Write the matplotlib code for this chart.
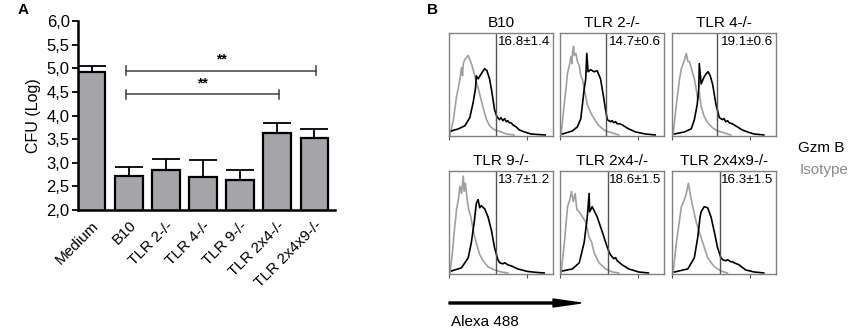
import matplotlib
matplotlib.use("Agg")
import matplotlib.pyplot as plt
import numpy as np

plt.rcParams['font.family'] = ['Liberation Sans', 'DejaVu Sans']

# ---- panel A data ----
groups = ["Medium", "B10", "TLR 2-/-", "TLR 4-/-", "TLR 9-/-", "TLR 2x4-/-", "TLR 2x4x9-/-"]
cfu = [4.92, 2.72, 2.85, 2.70, 2.63, 3.62, 3.53]
cfu_err = [0.13, 0.18, 0.22, 0.35, 0.22, 0.23, 0.19]
yticks = [2.0, 2.5, 3.0, 3.5, 4.0, 4.5, 5.0, 5.5, 6.0]

# ---- panel B data (x in decades of log fluorescence, y as fraction of max) ----
titles = ["B10", "TLR 2-/-", "TLR 4-/-", "TLR 9-/-", "TLR 2x4-/-", "TLR 2x4x9-/-"]
percent = ["16.8\u00b11.4", "14.7\u00b10.6", "19.1\u00b10.6", "13.7\u00b11.2", "18.6\u00b11.5", "16.3\u00b11.5"]
gates = [1.82, 1.78, 1.73, 1.82, 1.84, 1.85]

iso_x = [
    [0.04, 0.17, 0.29, 0.36, 0.42, 0.48, 0.52, 0.55, 0.61, 0.74, 0.80, 0.86, 0.93, 0.99, 1.05, 1.12, 1.18, 1.31, 1.43, 1.56, 1.75, 2.01, 2.2, 2.5],
    [0.04, 0.10, 0.17, 0.23, 0.29, 0.36, 0.42, 0.46, 0.48, 0.52, 0.55, 0.61, 0.67, 0.74, 0.80, 0.86, 0.93, 0.99, 1.05, 1.18, 1.31, 1.50, 1.75, 2.01, 2.26],
    [0.04, 0.17, 0.29, 0.36, 0.46, 0.55, 0.61, 0.67, 0.74, 0.80, 0.86, 0.93, 0.99, 1.05, 1.12, 1.24, 1.37, 1.56, 1.75, 2.01, 2.26],
    [0.04, 0.13, 0.20, 0.29, 0.36, 0.42, 0.48, 0.55, 0.58, 0.63, 0.70, 0.76, 0.84, 0.93, 1.02, 1.09, 1.18, 1.31, 1.50, 1.75, 2.01, 2.26],
    [0.04, 0.17, 0.29, 0.38, 0.44, 0.51, 0.58, 0.65, 0.74, 0.86, 0.99, 1.12, 1.22, 1.31, 1.50, 1.75, 2.01, 2.26],
    [0.04, 0.17, 0.36, 0.48, 0.55, 0.63, 0.71, 0.80, 0.93, 1.05, 1.18, 1.37, 1.63, 1.88, 2.13],
]
iso_y = [
    [0, 0.15, 0.38, 0.46, 0.55, 0.66, 0.58, 0.70, 0.74, 0.78, 0.74, 0.70, 0.64, 0.58, 0.52, 0.46, 0.40, 0.27, 0.16, 0.09, 0.05, 0.03, 0.01, 0],
    [0, 0.15, 0.32, 0.45, 0.61, 0.68, 0.77, 0.70, 0.80, 0.87, 0.78, 0.80, 0.72, 0.68, 0.58, 0.55, 0.45, 0.38, 0.30, 0.22, 0.16, 0.09, 0.04, 0.02, 0],
    [0, 0.30, 0.55, 0.65, 0.72, 0.80, 0.72, 0.72, 0.66, 0.60, 0.55, 0.45, 0.35, 0.42, 0.28, 0.18, 0.12, 0.07, 0.04, 0.02, 0],
    [0, 0.20, 0.40, 0.62, 0.72, 0.85, 0.78, 0.95, 0.80, 0.88, 0.72, 0.62, 0.55, 0.42, 0.32, 0.26, 0.18, 0.12, 0.06, 0.03, 0.01, 0],
    [0, 0.30, 0.65, 0.72, 0.80, 0.70, 0.78, 0.62, 0.60, 0.55, 0.50, 0.35, 0.30, 0.20, 0.10, 0.04, 0.01, 0],
    [0, 0.30, 0.65, 0.72, 0.78, 0.88, 0.76, 0.65, 0.50, 0.40, 0.30, 0.15, 0.06, 0.02, 0],
]
gzm_x = [
    [0.10, 0.36, 0.61, 0.80, 0.93, 1.02, 1.05, 1.12, 1.24, 1.37, 1.46, 1.56, 1.65, 1.75, 1.84, 1.94, 2.00, 2.07, 2.14, 2.20, 2.26, 2.32, 2.39, 2.45, 2.58, 2.70, 2.90, 3.15, 3.40, 3.7],
    [0.10, 0.48, 0.67, 0.80, 0.93, 0.99, 1.03, 1.08, 1.18, 1.31, 1.43, 1.56, 1.69, 1.75, 1.82, 1.94, 2.00, 2.07, 2.14, 2.20, 2.30, 2.39, 2.51, 2.64, 2.90, 3.28, 3.66],
    [0.10, 0.48, 0.74, 0.86, 0.97, 1.03, 1.05, 1.12, 1.22, 1.31, 1.39, 1.47, 1.56, 1.69, 1.82, 1.94, 2.00, 2.07, 2.14, 2.20, 2.32, 2.51, 2.70, 2.90, 3.15, 3.53],
    [0.10, 0.48, 0.74, 0.86, 0.97, 1.05, 1.12, 1.18, 1.24, 1.37, 1.50, 1.63, 1.75, 1.88, 1.95, 2.07, 2.15, 2.26, 2.39, 2.64, 3.02, 3.40, 3.66],
    [0.10, 0.48, 0.74, 0.93, 1.05, 1.12, 1.14, 1.24, 1.43, 1.63, 1.82, 1.90, 1.94, 2.00, 2.07, 2.14, 2.20, 2.39, 2.64, 3.02, 3.40],
    [0.10, 0.61, 0.86, 0.99, 1.08, 1.12, 1.24, 1.37, 1.50, 1.63, 1.75, 1.88, 1.95, 2.07, 2.14, 2.26, 2.32, 2.39, 2.58, 2.83, 3.15, 3.53],
]
gzm_y = [
    [0.04, 0.06, 0.09, 0.17, 0.32, 0.46, 0.58, 0.55, 0.60, 0.65, 0.63, 0.55, 0.42, 0.25, 0.18, 0.15, 0.17, 0.14, 0.16, 0.13, 0.14, 0.12, 0.12, 0.10, 0.08, 0.05, 0.03, 0.01, 0.005, 0],
    [0.01, 0.04, 0.08, 0.16, 0.45, 0.55, 0.80, 0.62, 0.64, 0.62, 0.63, 0.55, 0.35, 0.25, 0.15, 0.13, 0.14, 0.12, 0.13, 0.11, 0.11, 0.10, 0.08, 0.06, 0.03, 0.01, 0],
    [0.01, 0.03, 0.06, 0.15, 0.30, 0.45, 0.70, 0.50, 0.56, 0.60, 0.62, 0.58, 0.50, 0.30, 0.17, 0.15, 0.16, 0.13, 0.14, 0.12, 0.11, 0.08, 0.05, 0.03, 0.01, 0],
    [0.02, 0.05, 0.15, 0.30, 0.50, 0.68, 0.72, 0.64, 0.66, 0.63, 0.55, 0.42, 0.25, 0.13, 0.10, 0.09, 0.10, 0.08, 0.07, 0.04, 0.015, 0.005, 0],
    [0.02, 0.04, 0.10, 0.30, 0.55, 0.78, 0.60, 0.65, 0.55, 0.40, 0.25, 0.20, 0.18, 0.16, 0.14, 0.15, 0.12, 0.08, 0.04, 0.01, 0],
    [0.01, 0.04, 0.15, 0.35, 0.55, 0.60, 0.65, 0.64, 0.55, 0.40, 0.25, 0.15, 0.13, 0.12, 0.13, 0.11, 0.11, 0.10, 0.08, 0.03, 0.01, 0],
]

fig = plt.figure(figsize=(8.51, 3.31), dpi=100)

# ---------------- Panel A ----------------
ax = fig.add_axes([78 / 851, 1 - 210 / 331, 257 / 851, 189 / 331])
pos = np.arange(len(groups))
ax.bar(pos, cfu, width=0.74, color='#a4a4a9', edgecolor='black', linewidth=1.6, zorder=2)
ax.errorbar(pos, cfu, yerr=[np.zeros(len(cfu)), cfu_err], fmt='none', ecolor='black',
            elinewidth=1.3, capsize=10, capthick=1.3, zorder=1)
ax.set_ylim(2.0, 6.0)
ax.set_xlim(-0.37, 6.56)
ax.set_yticks(yticks)
ax.set_yticklabels([f"{v:.1f}".replace('.', ',') for v in yticks], fontsize=12)
ax.set_xticks(pos)
ax.set_xticklabels(groups, rotation=45, ha='right', rotation_mode='anchor', fontsize=11)
ax.tick_params(axis='x', length=0, pad=6)
ax.tick_params(axis='y', length=4, width=1.3, pad=2)
for s in ['top', 'right']:
    ax.spines[s].set_visible(False)
for s in ['left', 'bottom']:
    ax.spines[s].set_linewidth(1.8)
ax.set_ylabel("CFU (Log)", fontsize=11.5, labelpad=4)

# significance brackets
for x0, x1, yb in [(0.93, 6.05, 4.95), (0.93, 5.05, 4.45)]:
    ax.plot([x0, x1], [yb, yb], color='#404040', lw=1.1, clip_on=False)
    ax.plot([x0, x0], [yb - 0.1, yb + 0.1], color='#404040', lw=1.1)
    ax.plot([x1, x1], [yb - 0.1, yb + 0.1], color='#404040', lw=1.1)
    ax.text((x0 + x1) / 2, yb + 0.08, "**", ha='center', va='bottom', fontsize=10, fontweight='bold')

fig.text(18 / 851, 1 - 10 / 331, "A", fontsize=11, fontweight='bold', va='center', ha='left')
fig.text(427 / 851, 1 - 10 / 331, "B", fontsize=11, fontweight='bold', va='center', ha='left')

# ---------------- Panel B ----------------
lefts = [449, 560, 672]
tops = [33, 171]
w, h = 104, 103
for i in range(6):
    r, c = divmod(i, 3)
    hx = fig.add_axes([lefts[c] / 851, 1 - (tops[r] + h) / 331, w / 851, h / 331])
    hx.set_xscale('log')
    hx.plot(10 ** np.array(iso_x[i]), iso_y[i], color='#a0a0a0', lw=1.2)
    hx.plot(10 ** np.array(gzm_x[i]), gzm_y[i], color='black', lw=1.2)
    hx.axvline(10 ** gates[i], color='#555555', lw=1.0)
    hx.set_xlim(1, 1e4)
    hx.set_ylim(-0.01, 1.0)
    hx.set_yticks([])
    hx.tick_params(axis='x', which='major', length=3, direction='out', color='#555555', labelbottom=False)
    hx.tick_params(axis='x', which='minor', length=2, direction='out', color='#555555')
    for s in hx.spines.values():
        s.set_color('#808080')
        s.set_linewidth(1.0)
    hx.set_title(titles[i], fontsize=11, pad=4)
    hx.text(0.975, 0.97, percent[i], transform=hx.transAxes, ha='right', va='top', fontsize=9.6)

fig.text(798 / 851, 1 - 148 / 331, "Gzm B", fontsize=11, va='center', ha='left', color='black')
fig.text(800 / 851, 1 - 170 / 331, "Isotype", fontsize=11, va='center', ha='left', color='#8c8c8c')

fig.patches.append(matplotlib.patches.FancyArrow(449 / 851, 1 - 303 / 331, 132 / 851, 0,
                                                 width=2.0 / 331, head_width=8 / 331,
                                                 head_length=28 / 851, length_includes_head=True,
                                                 color='black', transform=fig.transFigure))
fig.text(451 / 851, 1 - 322 / 331, "Alexa 488", fontsize=11, va='center', ha='left')

fig.savefig("out.png", dpi=100)
